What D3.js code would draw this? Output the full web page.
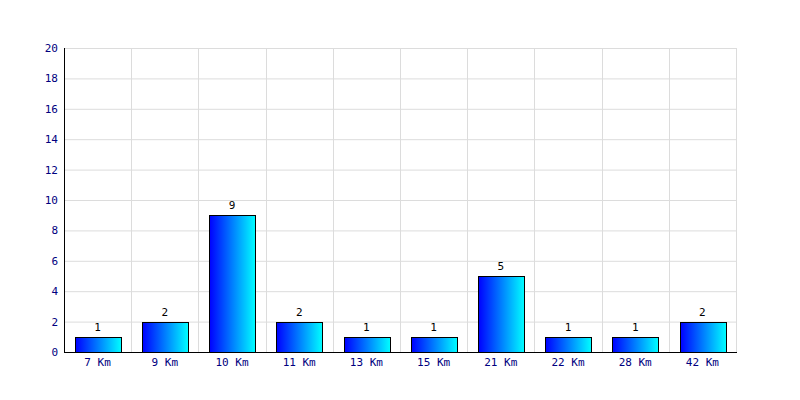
<!DOCTYPE html>
<html><head><meta charset="utf-8">
<script src="https://cdn.jsdelivr.net/npm/d3@7"></script>
<style>body{margin:0;background:#fff}svg{display:block}</style>
</head><body>
<svg id="c" width="800" height="400"></svg>
<script>
const categories = ["7 Km","9 Km","10 Km","11 Km","13 Km","15 Km","21 Km","22 Km","28 Km","42 Km"];
const values = [1,2,9,2,1,1,5,1,1,2];
const yTicks = [0,2,4,6,8,10,12,14,16,18,20];

const svg = d3.select("#c");
const L = 64, R = 736, T = 48, B = 352;
const x = d3.scaleBand().domain(categories).range([L, R]).padding(0);
const y = d3.scaleLinear().domain([0, 20]).range([B, T]);
const font = "DejaVu Sans Mono, monospace";

const defs = svg.append("defs");
const g = defs.append("linearGradient").attr("id","grad").attr("x1","0%").attr("x2","100%").attr("y1","0%").attr("y2","0%");
g.append("stop").attr("offset","0%").attr("stop-color","#0000ff");
g.append("stop").attr("offset","100%").attr("stop-color","#00ffff");

svg.append("g").selectAll("line").data(yTicks).join("line")
  .attr("x1", L).attr("x2", R).attr("y1", d => y(d)+0.5).attr("y2", d => y(d)+0.5)
  .attr("stroke", "#dcdcdc").attr("stroke-width", 1);
svg.append("g").selectAll("line").data(categories).join("line")
  .attr("x1", d => Math.round(x(d)+x.bandwidth())+0.5).attr("x2", d => Math.round(x(d)+x.bandwidth())+0.5)
  .attr("y1", T).attr("y2", B)
  .attr("stroke", "#dcdcdc").attr("stroke-width", 1);

const bw = x.bandwidth()*0.68;
svg.append("g").selectAll("rect").data(values).join("rect")
  .attr("x", (d,i) => Math.round(x(categories[i]) + (x.bandwidth()-bw)/2)+0.5)
  .attr("y", d => Math.round(y(d))+0.5)
  .attr("width", Math.round(bw))
  .attr("height", d => Math.round(B - y(d)))
  .attr("fill", "url(#grad)").attr("stroke", "#000").attr("stroke-width", 1);

svg.append("g").selectAll("text").data(values).join("text")
  .attr("x", (d,i) => x(categories[i]) + x.bandwidth()/2)
  .attr("y", d => y(d) - 6)
  .attr("text-anchor","middle").attr("font-family", font).attr("font-size", 11)
  .attr("fill","#000").text(d => d);

svg.append("line").attr("x1", L+0.5).attr("x2", L+0.5).attr("y1", T).attr("y2", B+1).attr("stroke","#000");
svg.append("line").attr("x1", L).attr("x2", R+1).attr("y1", B+0.5).attr("y2", B+0.5).attr("stroke","#000");

svg.append("g").selectAll("text").data(yTicks).join("text")
  .attr("x", L - 6).attr("y", d => y(d) + 4)
  .attr("text-anchor","end").attr("font-family", font).attr("font-size", 11)
  .attr("fill","#000080").text(d => d);

svg.append("g").selectAll("text").data(categories).join("text")
  .attr("x", d => x(d) + x.bandwidth()/2).attr("y", B + 14)
  .attr("text-anchor","middle").attr("font-family", font).attr("font-size", 11)
  .attr("fill","#000080").text(d => d);
</script>
</body></html>
